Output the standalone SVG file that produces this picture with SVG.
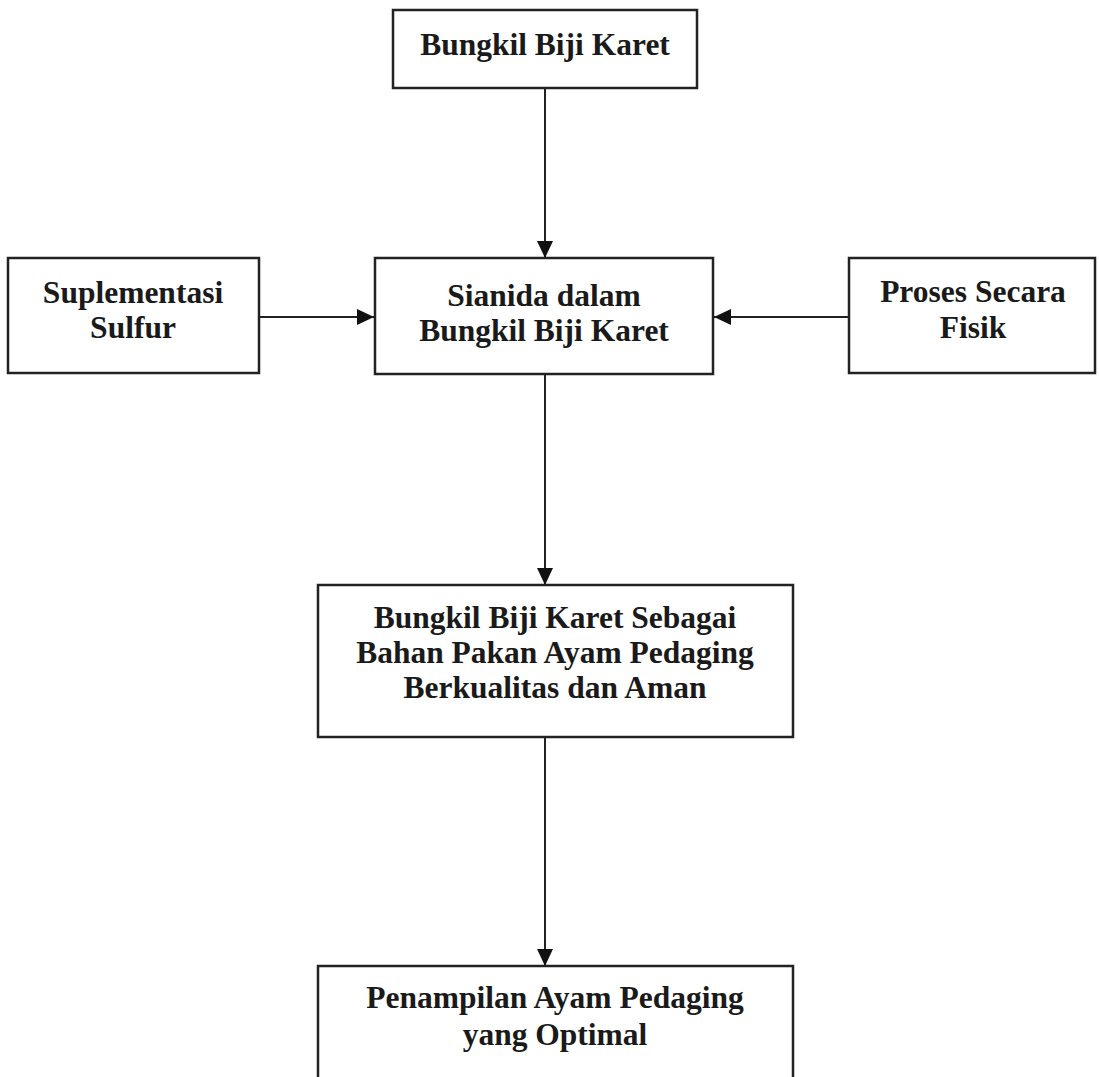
<svg xmlns="http://www.w3.org/2000/svg" width="1099" height="1077" viewBox="0 0 1099 1077">
<style>
.box{fill:#fff;stroke:#222;stroke-width:2.5}
.t{font-family:"Liberation Serif","Times New Roman",serif;font-weight:bold;font-size:31.5px;fill:#1a1a1a;text-anchor:middle}
.c{stroke:#222;stroke-width:2;fill:none;marker-end:url(#ah)}
</style>
<defs>
<marker id="ah" markerUnits="userSpaceOnUse" markerWidth="18" markerHeight="18" refX="17" refY="8" orient="auto">
<path d="M0,0 L17,8 L0,16 z" fill="#111"/>
</marker>
</defs>
<rect width="1099" height="1077" fill="#fff"/>
<g id="connectors">
<line class="c" x1="545" y1="88" x2="545" y2="258"/>
<line class="c" x1="259" y1="317" x2="374" y2="317"/>
<line class="c" x1="849" y1="317" x2="714" y2="317"/>
<line class="c" x1="545" y1="374" x2="545" y2="585"/>
<line class="c" x1="545" y1="737" x2="545" y2="966"/>
</g>
<g id="n1">
<rect class="box" x="393" y="10" width="304" height="78"/>
<text class="t" x="545" y="55">Bungkil Biji Karet</text>
</g>
<g id="n2">
<rect class="box" x="8" y="258" width="251" height="115"/>
<text class="t" x="133" y="303">Suplementasi</text>
<text class="t" x="133" y="338">Sulfur</text>
</g>
<g id="n3">
<rect class="box" x="375" y="258" width="338" height="116"/>
<text class="t" x="544" y="306">Sianida dalam</text>
<text class="t" x="544" y="341">Bungkil Biji Karet</text>
</g>
<g id="n4">
<rect class="box" x="849" y="258" width="246" height="115"/>
<text class="t" x="973" y="302">Proses Secara</text>
<text class="t" x="973" y="338">Fisik</text>
</g>
<g id="n5">
<rect class="box" x="318" y="585" width="475" height="152"/>
<text class="t" x="555" y="628">Bungkil Biji Karet Sebagai</text>
<text class="t" x="555" y="663">Bahan Pakan Ayam Pedaging</text>
<text class="t" x="555" y="698">Berkualitas dan Aman</text>
</g>
<g id="n6">
<rect class="box" x="318" y="966" width="475" height="130"/>
<text class="t" x="555" y="1008">Penampilan Ayam Pedaging</text>
<text class="t" x="555" y="1045">yang Optimal</text>
</g>
</svg>
